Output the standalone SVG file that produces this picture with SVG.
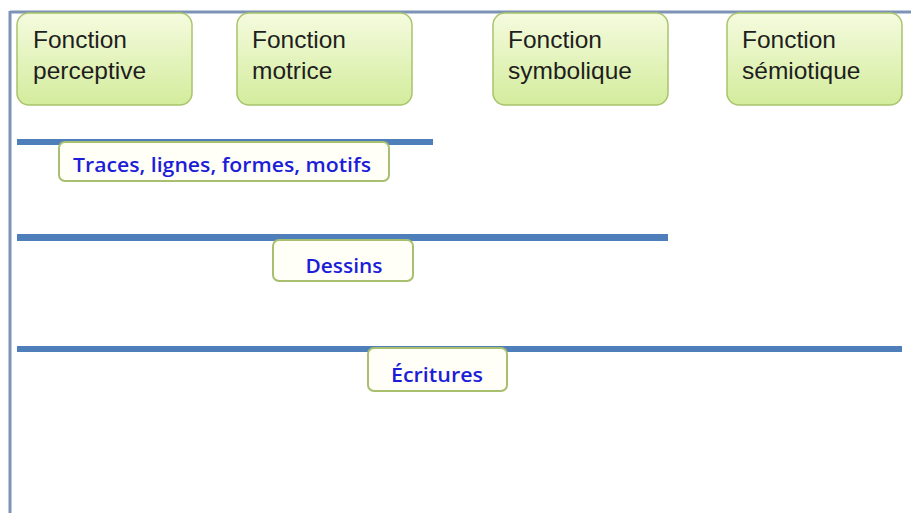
<svg xmlns="http://www.w3.org/2000/svg" width="911" height="513" viewBox="0 0 911 513">
<style>
.frame{stroke:#7d93b5;stroke-width:3;fill:none}
.fn{fill:url(#g);stroke:#a9c46c;stroke-width:1.5}
.fnt{font-family:"Liberation Sans",Arial,sans-serif;font-size:24.5px;fill:#1e1e1e}
.bar{fill:#4f7fba}
.lb{fill:#fffff8;stroke:#a7bf6e;stroke-width:2}
.lbt{font-family:"Open Sans","Liberation Sans",sans-serif;font-size:20.5px;font-weight:600;fill:#1d1dd8}
</style>
<defs>
<linearGradient id="g" x1="0" y1="0" x2="0" y2="1">
<stop offset="0" stop-color="#f5fbdf"/>
<stop offset="1" stop-color="#d3ec9c"/>
</linearGradient>
</defs>
<rect width="911" height="513" fill="#ffffff"/>
<g id="frame">
<line class="frame" x1="10" y1="12" x2="911" y2="12"/>
<line class="frame" x1="10" y1="11" x2="10" y2="513"/>
</g>
<g id="n1"><rect class="fn" x="17" y="13" width="175" height="92" rx="12"/><text class="fnt" x="33" y="48">Fonction</text><text class="fnt" x="33" y="79">perceptive</text></g>
<g id="n2"><rect class="fn" x="237" y="13" width="175" height="92" rx="12"/><text class="fnt" x="252" y="48">Fonction</text><text class="fnt" x="252" y="79">motrice</text></g>
<g id="n3"><rect class="fn" x="493" y="13" width="175" height="92" rx="12"/><text class="fnt" x="508" y="48">Fonction</text><text class="fnt" x="508" y="79">symbolique</text></g>
<g id="n4"><rect class="fn" x="727" y="13" width="175" height="92" rx="12"/><text class="fnt" x="742" y="48">Fonction</text><text class="fnt" x="742" y="79">sémiotique</text></g>
<g id="connectors">
<rect class="bar" x="17" y="139" width="416" height="6"/>
<rect class="bar" x="17" y="234" width="651" height="7"/>
<rect class="bar" x="17" y="346" width="885" height="6"/>
</g>
<g id="l1"><rect class="lb" x="59" y="142" width="330" height="39" rx="6"/><text class="lbt" x="222" y="172" text-anchor="middle" textLength="298" lengthAdjust="spacingAndGlyphs">Traces, lignes, formes, motifs</text></g>
<g id="l2"><rect class="lb" x="273" y="240" width="140" height="41" rx="6"/><text class="lbt" x="344" y="273" text-anchor="middle" textLength="77" lengthAdjust="spacingAndGlyphs">Dessins</text></g>
<g id="l3"><rect class="lb" x="368" y="348" width="139" height="43" rx="6"/><text class="lbt" x="437" y="382" text-anchor="middle" textLength="92" lengthAdjust="spacingAndGlyphs">Écritures</text></g>
</svg>
